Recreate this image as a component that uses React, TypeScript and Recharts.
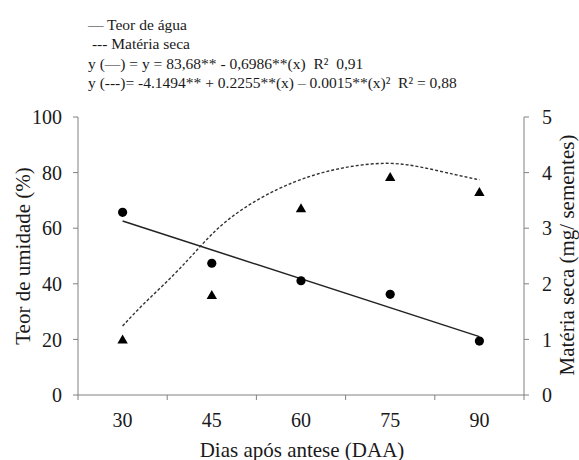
import React from "react";
import { ComposedChart, Line, Scatter, XAxis, YAxis } from "recharts";

// Dias após antese, observed points
const days = [30, 45, 60, 75, 90];
const teorAgua = [65.7, 47.4, 41.1, 36.2, 19.4];
const materiaSeca = [1.0, 1.8, 3.36, 3.92, 3.65];

// fitted straight line (Teor de água), read at its two ends
const fitLinX = [30, 90];
const fitLinY = [62.6, 21.0];

// fitted curve (Matéria seca)
const fitCurX = [30, 33, 39, 43, 47, 53, 59, 64, 69, 75, 80, 86, 90];
const fitCurY = [1.24, 1.59, 2.19, 2.67, 3.12, 3.55, 3.85, 4.02, 4.13, 4.19, 4.11, 3.96, 3.87];

const xTicks = [22.5, 30, 37.5, 45, 52.5, 60, 67.5, 75, 82.5, 90, 97.5];
const leftTicks = [0, 20, 40, 60, 80, 100];
const rightTicks = [0, 1, 2, 3, 4, 5];

const legendLines = [
  "— Teor de água",
  " --- Matéria seca",
  "y (—) = y = 83,68** - 0,6986**(x)  R²  0,91",
  "y (---)= -4.1494** + 0.2255**(x) – 0.0015**(x)²  R² = 0,88",
];

const SERIF = "Liberation Serif, Tinos, DejaVu Serif, serif";
const AXIS = "#808080";
const INK = "#1a1a1a";

const waterPts = days.map((d, i) => ({ x: d, y: teorAgua[i] }));
const dryPts = days.map((d, i) => ({ x: d, y: materiaSeca[i] }));
const linPts = fitLinX.map((d, i) => ({ x: d, y: fitLinY[i] }));
const curPts = fitCurX.map((d, i) => ({ x: d, y: fitCurY[i] }));

const tickFont = { fontSize: 20, fill: INK, fontFamily: SERIF } as const;

function XTick(props: any) {
  const { x, y, payload } = props;
  const v = payload.value as number;
  if (v % 15 !== 0) {
    return <line x1={x} y1={y} x2={x} y2={y + 5} stroke={AXIS} strokeWidth={1} />;
  }
  return (
    <text x={x} y={y + 18} dy="0.71em" textAnchor="middle" {...tickFont}>
      {v}
    </text>
  );
}

const Dot = (p: any) => <circle cx={p.cx} cy={p.cy} r={4.6} fill="#000" />;
const Tri = (p: any) => (
  <path d={`M${p.cx},${p.cy - 5} L${p.cx + 5.2},${p.cy + 4} L${p.cx - 5.2},${p.cy + 4} Z`} fill="#000" />
);

export default function App() {
  return (
    <div style={{ position: "absolute", left: 0, top: 0, width: 579, height: 460, background: "#fff", fontFamily: SERIF, color: INK }}>
      <div style={{ position: "absolute", left: 88, top: 15, fontSize: 15.5, lineHeight: "19.3px", whiteSpace: "pre" }}>
        {legendLines.map((t, i) => <div key={i}>{t}</div>)}
      </div>
      <ComposedChart width={579} height={460} margin={{ top: 117, right: 0, bottom: 0, left: 0 }}>
        <XAxis dataKey="x" type="number" domain={[22.5, 97.5]} ticks={xTicks} interval={0}
          height={65} tickSize={0} tickMargin={0} tick={<XTick />} axisLine={{ stroke: AXIS }} allowDataOverflow />
        <YAxis yAxisId="left" domain={[0, 100]} ticks={leftTicks} interval={0} width={78}
          tickSize={5} tickMargin={11} tick={tickFont} axisLine={{ stroke: AXIS }} tickLine={{ stroke: AXIS }} />
        <YAxis yAxisId="right" orientation="right" domain={[0, 5]} ticks={rightTicks} interval={0} width={55}
          tickSize={5} tickMargin={13} tick={tickFont} axisLine={{ stroke: AXIS }} tickLine={{ stroke: AXIS }} />
        <Line yAxisId="left" data={linPts} dataKey="y" type="linear" stroke="#222" strokeWidth={1.5}
          dot={false} activeDot={false} isAnimationActive={false} />
        <Line yAxisId="right" data={curPts} dataKey="y" type="basis" stroke="#333" strokeWidth={1.4}
          strokeDasharray="3 2" dot={false} activeDot={false} isAnimationActive={false} />
        <Scatter yAxisId="left" data={waterPts} dataKey="y" shape={Dot} isAnimationActive={false} />
        <Scatter yAxisId="right" data={dryPts} dataKey="y" shape={Tri} isAnimationActive={false} />
      </ComposedChart>
      <div style={{ position: "absolute", left: 23, top: 256, transform: "translate(-50%, -50%) rotate(-90deg)", fontSize: 21, whiteSpace: "nowrap" }}>
        Teor de umidade (%)
      </div>
      <div style={{ position: "absolute", left: 567, top: 255, transform: "translate(-50%, -50%) rotate(-90deg)", fontSize: 21, lineHeight: "22px", whiteSpace: "nowrap" }}>
        Matéria seca (mg/ sementes)
      </div>
      <div style={{ position: "absolute", left: 302, top: 450, transform: "translate(-50%, -50%)", fontSize: 21, whiteSpace: "nowrap" }}>
        Dias após antese (DAA)
      </div>
    </div>
  );
}
